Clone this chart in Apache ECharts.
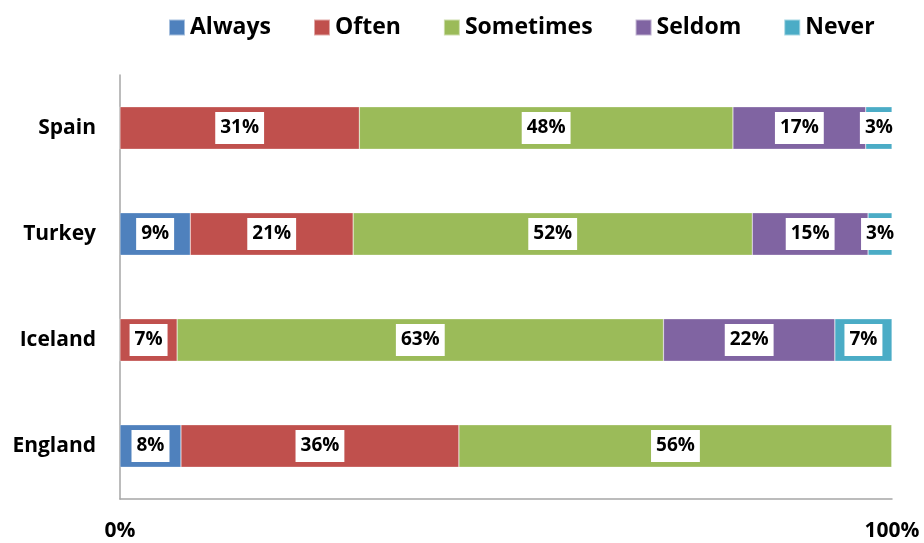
<!DOCTYPE html>
<html>
<head>
<meta charset="utf-8">
<script src="https://cdn.jsdelivr.net/npm/echarts@6/dist/echarts.min.js"></script>
<style>html,body{margin:0;padding:0;background:#fff}#c{width:924px;height:543px}</style>
</head>
<body>
<div id="c"></div>
<script>
const categories = ['England', 'Iceland', 'Turkey', 'Spain'];
const seriesNames = ['Always', 'Often', 'Sometimes', 'Seldom', 'Never'];
const always    = [7.9, 0,    9.1,  0];
const often     = [36.0, 7.4, 21.1, 31.0];
const sometimes = [56.1, 63.0, 51.7, 48.4];
const seldom    = [0,   22.2, 15.0, 17.2];
const never     = [0,   7.4,  3.1,  3.4];
const colors = ['#4F81BD', '#C0504D', '#9BBB59', '#8064A2', '#4BACC6'];
const xTicks = [0, 100];

const FONT = '"Open Sans"';
const allValues = [always, often, sometimes, seldom, never];

const chart = echarts.init(document.getElementById('c'), null, {renderer: 'canvas'});
chart.setOption({
  animation: false,
  color: colors,
  legend: {
    top: 11,
    left: 163,
    itemWidth: 16,
    itemHeight: 16,
    itemGap: 42,
    icon: 'rect',
    textStyle: {fontFamily: FONT, fontWeight: 'bold', fontSize: 23, color: '#000'},
    data: seriesNames
  },
  grid: {left: 120, right: 32, top: 75, bottom: 44, containLabel: false},
  xAxis: {
    type: 'value', min: xTicks[0], max: xTicks[1], interval: 100,
    axisLine: {show: true, lineStyle: {color: '#a6a6a6', width: 1.5}},
    axisTick: {show: false},
    splitLine: {show: false},
    axisLabel: {margin: 22, formatter: '{value}%', fontFamily: FONT, fontWeight: 'bold', fontSize: 21, color: '#000'}
  },
  yAxis: {
    type: 'category', data: categories,
    axisLine: {show: true, lineStyle: {color: '#a6a6a6', width: 1.5}},
    axisTick: {show: false},
    axisLabel: {margin: 24, fontFamily: FONT, fontWeight: 'bold', fontSize: 21, color: '#000'}
  },
  series: seriesNames.map((name, i) => ({
    name: name,
    type: 'bar',
    stack: 'total',
    barWidth: '40%',
    itemStyle: {borderColor: 'rgba(255,255,255,0.5)', borderWidth: 0.5},
    label: {
      show: true,
      position: 'inside',
      formatter: p => Math.round(p.value) + '%',
      backgroundColor: '#fff',
      color: '#000',
      fontFamily: FONT,
      fontWeight: 'bold',
      fontSize: 19,
      lineHeight: 22,
      padding: [5, 5]
    },
    data: allValues[i].map(v => v === 0 ? {value: 0, label: {show: false}} : v)
  }))
});
</script>
</body>
</html>
